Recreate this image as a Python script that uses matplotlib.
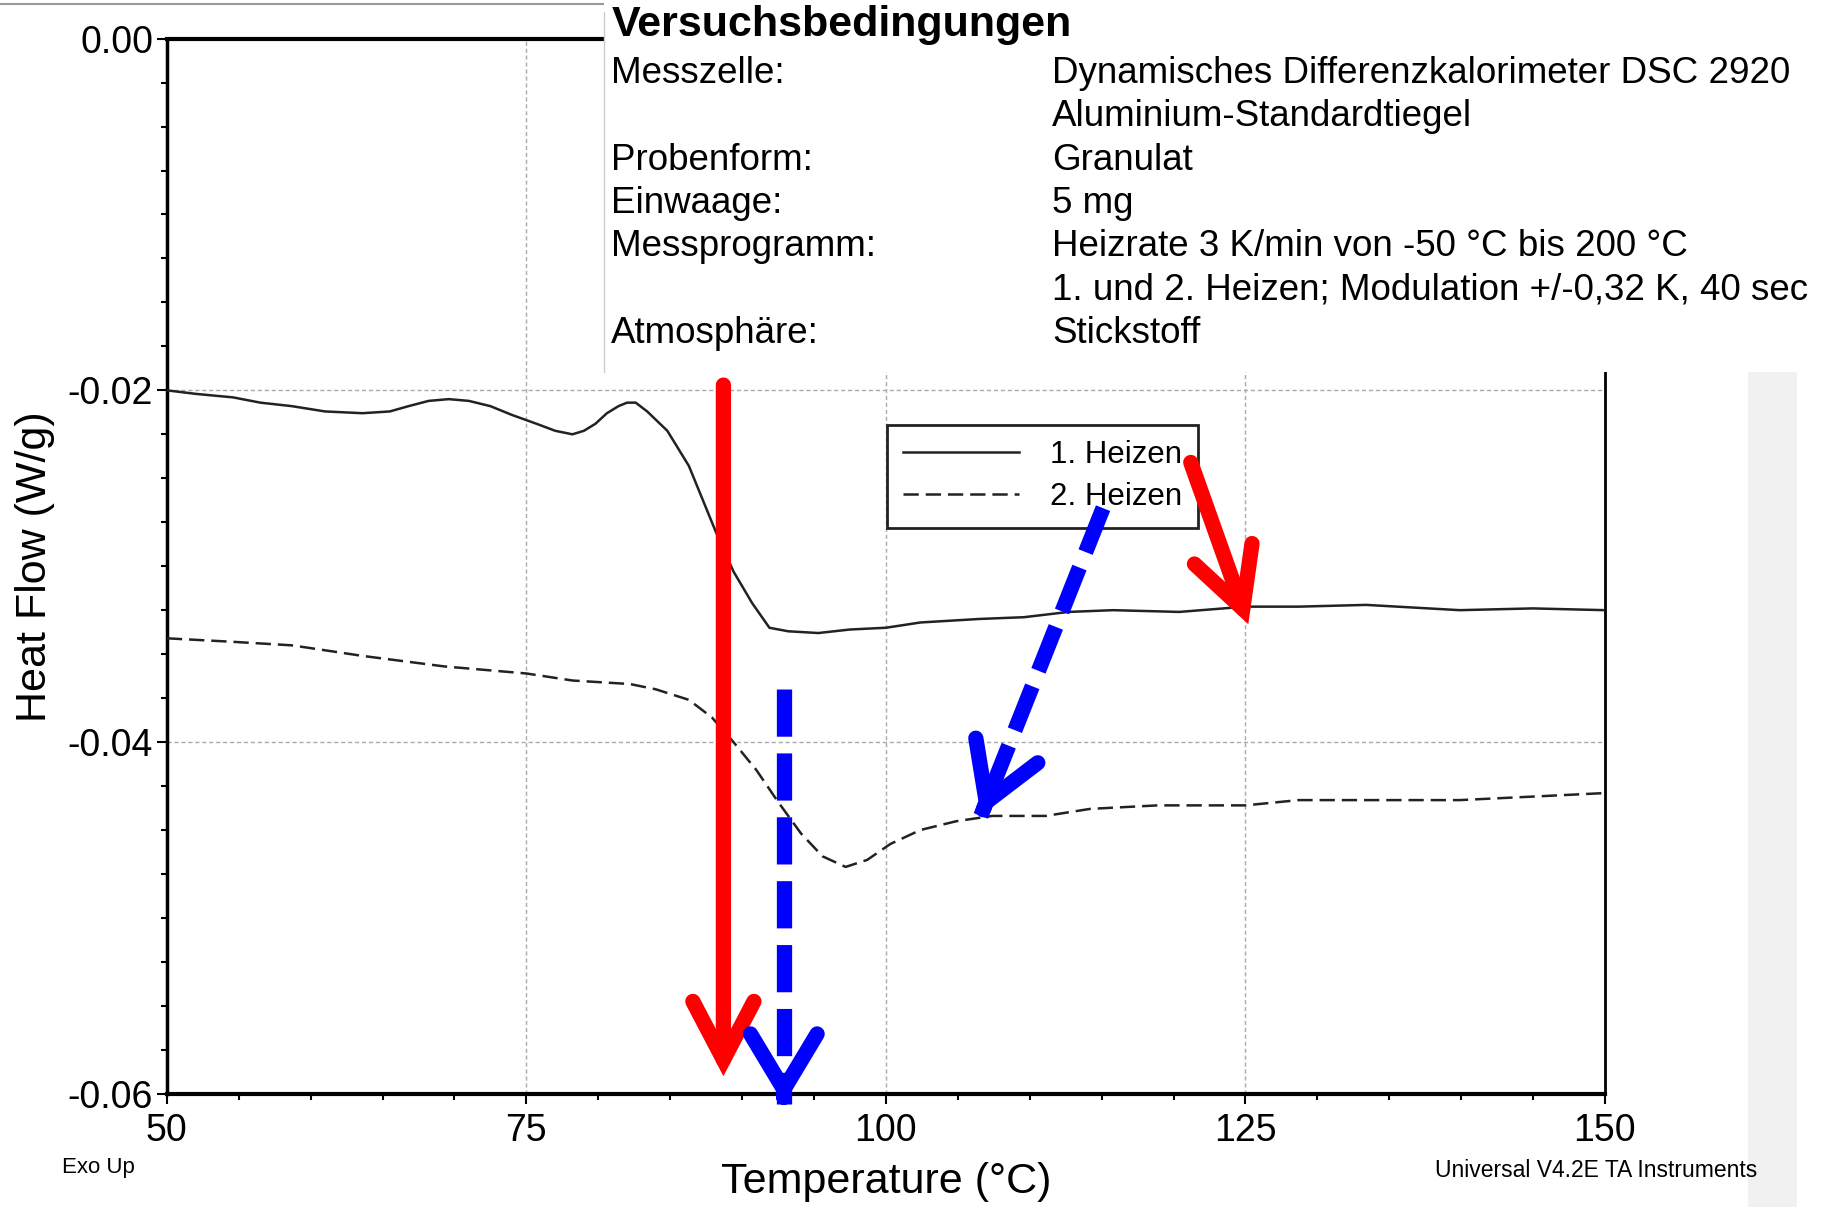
import numpy as np
import matplotlib
matplotlib.use("Agg")
import matplotlib.pyplot as plt
from matplotlib.ticker import MultipleLocator, FormatStrFormatter
from matplotlib.patches import Rectangle, Ellipse
from matplotlib.lines import Line2D

plt.rcParams["font.family"] = ["Liberation Sans", "DejaVu Sans"]
plt.rcParams["axes.unicode_minus"] = False
plt.rcParams["lines.scale_dashes"] = False

# 1. Heizen (solid curve)
temp_1 = [50.0, 52.0, 54.6, 56.5, 58.7, 61.0, 63.6, 65.5, 66.8, 68.2, 69.6, 71.0,
          72.5, 74.0, 75.7, 77.0, 78.2, 79.0, 79.8, 80.6, 81.4, 82.0, 82.6, 83.4,
          84.8, 86.3, 88.2, 89.4, 90.7, 91.9, 93.2, 95.3, 97.5, 100.0, 102.4,
          106.5, 109.6, 112.7, 115.8, 120.4, 125.0, 128.7, 133.4, 139.9, 145.0, 150.0]
flow_1 = [-0.0200, -0.0202, -0.0204, -0.0207, -0.0209, -0.0212, -0.0213, -0.0212,
          -0.0209, -0.0206, -0.0205, -0.0206, -0.0209, -0.0214, -0.0219, -0.0223,
          -0.0225, -0.0223, -0.0219, -0.0213, -0.0209, -0.0207, -0.0207, -0.0212,
          -0.0223, -0.0243, -0.0281, -0.0303, -0.0321, -0.0335, -0.0337, -0.0338,
          -0.0336, -0.0335, -0.0332, -0.0330, -0.0329, -0.0326, -0.0325, -0.0326,
          -0.0323, -0.0323, -0.0322, -0.0325, -0.0324, -0.0325]

# 2. Heizen (dashed curve)
temp_2 = [50.0, 54.6, 58.7, 63.6, 69.3, 75.0, 78.2, 82.2, 84.0, 86.3, 87.9, 89.4,
          91.0, 92.5, 94.1, 95.6, 97.2, 98.7, 100.3, 102.4, 104.9, 107.4, 111.1,
          114.2, 118.9, 125.0, 128.7, 135.8, 139.9, 145.0, 150.0]
flow_2 = [-0.0341, -0.0343, -0.0345, -0.0351, -0.0357, -0.0361, -0.0365, -0.0367,
          -0.0370, -0.0376, -0.0386, -0.0400, -0.0416, -0.0434, -0.0452, -0.0465,
          -0.0471, -0.0467, -0.0458, -0.0450, -0.0445, -0.0442, -0.0442, -0.0438,
          -0.0436, -0.0436, -0.0433, -0.0433, -0.0433, -0.0431, -0.0429]

x_ticks = [50, 75, 100, 125, 150]
y_ticks = [-0.06, -0.04, -0.02, 0.00]

# annotation arrows: (start T, start HF) -> (tip T, tip HF)
red_arrows = [((88.7, -0.0197), (88.7, -0.0590)),
              ((121.2, -0.0241), (125.2, -0.0333))]
blue_arrows = [((92.9, -0.0370), (92.9, -0.0606)),
               ((115.1, -0.0267), (106.6, -0.0442))]

info_rows = [("Messzelle:", "Dynamisches Differenzkalorimeter DSC 2920"),
             ("", "Aluminium-Standardtiegel"),
             ("Probenform:", "Granulat"),
             ("Einwaage:", "5 mg"),
             ("Messprogramm:", "Heizrate 3 K/min von -50 °C bis 200 °C"),
             ("", "1. und 2. Heizen; Modulation +/-0,32 K, 40 sec"),
             ("Atmosphäre:", "Stickstoff")]

fig = plt.figure(figsize=(18.3, 12.07), dpi=100)
ax = fig.add_axes([0.0912, 0.0938, 0.7858, 0.8742])

ax.plot(temp_1, flow_1, color="#222222", lw=1.8, label="1. Heizen", zorder=3)
ax.plot(temp_2, flow_2, color="#222222", lw=1.8, dashes=[11, 5], label="2. Heizen", zorder=3)

ax.set_xlim(50, 150)
ax.set_ylim(-0.06, 0.0)
ax.set_xticks(x_ticks)
ax.set_yticks(y_ticks)
ax.xaxis.set_minor_locator(MultipleLocator(5))
ax.yaxis.set_minor_locator(MultipleLocator(0.0025))
ax.yaxis.set_major_formatter(FormatStrFormatter("%.2f"))
ax.tick_params(which="major", direction="out", length=7, width=1.5, labelsize=27)
ax.tick_params(which="minor", direction="out", length=4, width=1.5)
ax.tick_params(axis="x", pad=7)
ax.tick_params(axis="y", pad=3)

ax.grid(True, which="major", color="#aaaaaa", linestyle=(0, (3, 2)), lw=1.0)
ax.spines["top"].set_linewidth(3)
ax.spines["bottom"].set_linewidth(3)
ax.spines["left"].set_linewidth(2.5)
ax.spines["right"].set_linewidth(2)

ax.set_xlabel("Temperature (°C)", fontsize=31)
ax.xaxis.label.set_va("center")
ax.xaxis.set_label_coords(0.5, -0.084)
ax.set_ylabel("Heat Flow (W/g)", fontsize=31)
ax.yaxis.label.set_va("center")
ax.yaxis.set_label_coords(-0.0917, 0.5)

leg = ax.legend(loc="upper left", bbox_to_anchor=(0.501, 0.634), fontsize=22.5,
                handlelength=3.7, handletextpad=1.0, labelspacing=0.38,
                borderpad=0.5, borderaxespad=0, fancybox=False, framealpha=1,
                edgecolor="#222222")
leg.get_frame().set_linewidth(2)

# red arrows
for (x0, y0), (x1, y1) in red_arrows:
    ax.annotate("", xy=(x1, y1), xytext=(x0, y0), annotation_clip=False,
                arrowprops=dict(arrowstyle="->,head_length=0.42,head_width=0.22",
                                mutation_scale=100, color="#ff0000", lw=11,
                                shrinkA=0, shrinkB=0, capstyle="round",
                                joinstyle="miter"), zorder=8)

# blue dashed arrows: dashed shaft + solid head
for (x0, y0), (x1, y1) in blue_arrows:
    ax.plot([x0, x1], [y0, y1], color="#0000ff", lw=11, dashes=[34, 12],
            solid_capstyle="butt", dash_capstyle="butt", clip_on=False, zorder=8)
    ax.annotate("", xy=(x1, y1), xytext=(x1 - (x1 - x0) * 0.02, y1 - (y1 - y0) * 0.02),
                annotation_clip=False,
                arrowprops=dict(arrowstyle="->,head_length=0.40,head_width=0.24",
                                mutation_scale=100, color="#0000ff", lw=11,
                                shrinkA=0, shrinkB=0, capstyle="round"), zorder=8)

# scan artefacts
fig.add_artist(Rectangle((0.955, 0.0), 0.027, 0.692, transform=fig.transFigure,
                         facecolor="#f1f1f1", edgecolor="none", zorder=1))
fig.add_artist(Line2D([0.0, 0.98], [0.9965, 0.9965], transform=fig.transFigure,
                      color="#999999", lw=1.5, zorder=9))
fig.add_artist(Ellipse((0.4055, 1.006), 0.018, 0.022, transform=fig.transFigure,
                       facecolor="#cc1111", edgecolor="none", zorder=9))

# info box
fig.add_artist(Rectangle((0.330, 0.692), 0.652, 0.31, transform=fig.transFigure,
                         facecolor="white", edgecolor="none", zorder=10))
fig.add_artist(Line2D([0.330, 0.330], [0.692, 0.99], transform=fig.transFigure,
                      color="#cccccc", lw=1, zorder=10))
fig.text(0.334, 0.979, "Versuchsbedingungen", fontsize=31, fontweight="bold",
         va="center", ha="left", zorder=11)
row_y = 0.939
for left, right in info_rows:
    if left:
        fig.text(0.334, row_y, left, fontsize=26.5, va="center", ha="left", zorder=11)
    fig.text(0.575, row_y, right, fontsize=26.5, va="center", ha="left", zorder=11)
    row_y -= 0.0359

fig.text(0.034, 0.033, "Exo Up", fontsize=16, va="center", ha="left")
fig.text(0.960, 0.030, "Universal V4.2E TA Instruments", fontsize=16.5,
         va="center", ha="right")

fig.savefig("out.png", dpi=100)
